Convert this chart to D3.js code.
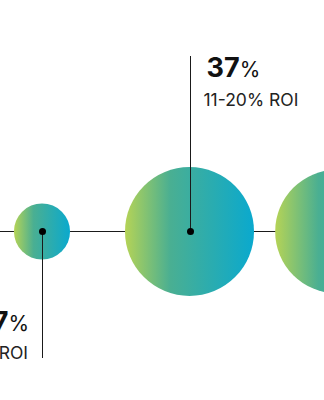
<!DOCTYPE html>
<html>
<head>
<meta charset="utf-8">
<script src="https://cdn.jsdelivr.net/npm/d3@7"></script>
<style>
  html, body { margin: 0; padding: 0; background: #fff; }
  svg { display: block; font-family: Inter, "Noto Sans", sans-serif; }
</style>
</head>
<body>
<div id="chart"></div>
<script>
// ROI buckets and share of respondents
const categories = ["0-10% ROI", "11-20% ROI", "21-30% ROI"];
const shares = [7, 37, 34];

const w = 324;
const h = 400;
const baseY = 231.5;

const svg = d3.select("#chart")
  .append("svg")
  .attr("width", w)
  .attr("height", h);

// gradient fill of the bubbles
const grad = svg.append("defs")
  .append("linearGradient")
  .attr("id", "bubbleFill")
  .attr("x1", 0).attr("x2", 1).attr("y1", 0).attr("y2", 0);
grad.append("stop").attr("offset", "0%").attr("stop-color", "#b5d356");
grad.append("stop").attr("offset", "35%").attr("stop-color", "#4aaf92");
grad.append("stop").attr("offset", "100%").attr("stop-color", "#0aa9ce");

const data = categories.map((c, i) => ({ cat: c, value: shares[i], i: i }));

// Scales
const xScale = d3.scalePoint()
  .domain(categories)
  .range([42, 337]);

const rScale = d3.scaleSqrt()
  .domain([0, d3.max(shares)])
  .range([0, 64.5]);

// crisp 1px position for the leader lines
const px = (d) => Math.round(xScale(d.cat)) + 0.5;

// horizontal connector
svg.append("line")
  .attr("x1", 0).attr("x2", w)
  .attr("y1", baseY).attr("y2", baseY)
  .attr("stroke", "#1a1a1a")
  .attr("stroke-width", 1);

svg.selectAll("circle.bubble")
  .data(data)
  .enter()
  .append("circle")
  .attr("class", "bubble")
  .attr("cx", (d) => xScale(d.cat))
  .attr("cy", baseY)
  .attr("r", (d) => rScale(d.value))
  .attr("fill", "url(#bubbleFill)");

// first label hangs below, the others sit above
const below = (d) => d.i === 0;

svg.selectAll("line.leader")
  .data(data)
  .enter()
  .append("line")
  .attr("class", "leader")
  .attr("x1", px)
  .attr("x2", px)
  .attr("y1", baseY)
  .attr("y2", (d) => below(d) ? 358 : 56)
  .attr("stroke", "#1a1a1a")
  .attr("stroke-width", 1);

svg.selectAll("circle.dot")
  .data(data)
  .enter()
  .append("circle")
  .attr("class", "dot")
  .attr("cx", px)
  .attr("cy", baseY)
  .attr("r", 3.5)
  .attr("fill", "#000");

const labels = svg.selectAll("g.label")
  .data(data)
  .enter()
  .append("g")
  .attr("class", "label")
  .attr("transform", (d) => below(d)
    ? `translate(${xScale(d.cat) - 14},0)`
    : `translate(${xScale(d.cat) + 14},0)`)
  .attr("text-anchor", (d) => below(d) ? "end" : "start");

const pct = labels.append("text")
  .attr("x", (d) => below(d) ? 1 : 3)
  .attr("y", (d) => below(d) ? 331 : 77)
  .attr("fill", "#111");
pct.append("tspan")
  .attr("font-size", 27)
  .attr("font-weight", 700)
  .text((d) => d.value);
pct.append("tspan")
  .attr("font-size", 21)
  .attr("font-weight", 400)
  .text("%");

labels.append("text")
  .attr("y", (d) => below(d) ? 359 : 106)
  .attr("font-size", 17.5)
  .attr("fill", "#222")
  .text((d) => d.cat);
</script>
</body>
</html>
